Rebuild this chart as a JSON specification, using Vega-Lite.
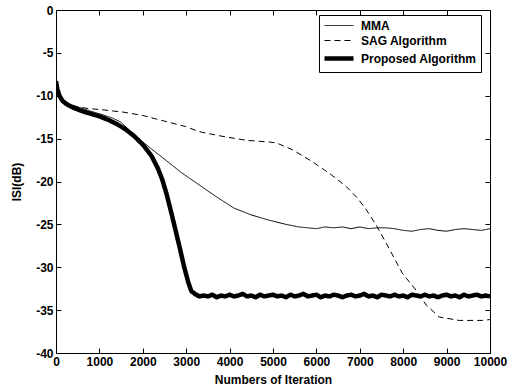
{
  "$schema": "https://vega.github.io/schema/vega-lite/v6.json",
  "width": 434,
  "height": 343,
  "autosize": {"type": "none"},
  "padding": {"left": 56, "top": 10, "right": 25, "bottom": 38},
  "background": "white",
  "config": {
    "view": {"stroke": "black", "strokeWidth": 1},
    "font": "Liberation Sans",
    "axis": {"grid": false, "domain": false, "tickColor": "black", "labelColor": "black", "titleColor": "black"}
  },
  "data": {
    "values": [
      {"series": "MMA", "iter": 0, "isi": -8.5},
      {"series": "MMA", "iter": 100, "isi": -10.2},
      {"series": "MMA", "iter": 250, "isi": -10.9},
      {"series": "MMA", "iter": 500, "isi": -11.3},
      {"series": "MMA", "iter": 800, "isi": -11.8},
      {"series": "MMA", "iter": 1000, "isi": -12.1},
      {"series": "MMA", "iter": 1300, "isi": -12.6},
      {"series": "MMA", "iter": 1500, "isi": -13.1},
      {"series": "MMA", "iter": 1770, "isi": -14.4},
      {"series": "MMA", "iter": 2000, "isi": -15.4},
      {"series": "MMA", "iter": 2300, "isi": -16.6},
      {"series": "MMA", "iter": 2600, "isi": -17.8},
      {"series": "MMA", "iter": 2900, "isi": -19.0},
      {"series": "MMA", "iter": 3300, "isi": -20.4},
      {"series": "MMA", "iter": 3700, "isi": -21.8},
      {"series": "MMA", "iter": 4100, "isi": -23.1},
      {"series": "MMA", "iter": 4500, "isi": -23.9},
      {"series": "MMA", "iter": 4900, "isi": -24.5},
      {"series": "MMA", "iter": 5300, "isi": -25.0},
      {"series": "MMA", "iter": 5600, "isi": -25.3},
      {"series": "MMA", "iter": 5800, "isi": -25.4},
      {"series": "MMA", "iter": 6000, "isi": -25.5},
      {"series": "MMA", "iter": 6200, "isi": -25.3},
      {"series": "MMA", "iter": 6400, "isi": -25.4},
      {"series": "MMA", "iter": 6600, "isi": -25.3},
      {"series": "MMA", "iter": 6800, "isi": -25.5},
      {"series": "MMA", "iter": 7000, "isi": -25.3},
      {"series": "MMA", "iter": 7200, "isi": -25.5},
      {"series": "MMA", "iter": 7400, "isi": -25.4},
      {"series": "MMA", "iter": 7600, "isi": -25.4},
      {"series": "MMA", "iter": 7800, "isi": -25.5},
      {"series": "MMA", "iter": 8000, "isi": -25.7},
      {"series": "MMA", "iter": 8200, "isi": -25.8},
      {"series": "MMA", "iter": 8400, "isi": -25.6},
      {"series": "MMA", "iter": 8600, "isi": -25.5},
      {"series": "MMA", "iter": 8800, "isi": -25.7},
      {"series": "MMA", "iter": 9000, "isi": -25.8},
      {"series": "MMA", "iter": 9200, "isi": -25.6},
      {"series": "MMA", "iter": 9400, "isi": -25.5},
      {"series": "MMA", "iter": 9600, "isi": -25.6},
      {"series": "MMA", "iter": 9800, "isi": -25.7},
      {"series": "MMA", "iter": 10000, "isi": -25.5},
      {"series": "SAG Algorithm", "iter": 0, "isi": -8.5},
      {"series": "SAG Algorithm", "iter": 100, "isi": -10.2},
      {"series": "SAG Algorithm", "iter": 300, "isi": -11.0},
      {"series": "SAG Algorithm", "iter": 500, "isi": -11.3},
      {"series": "SAG Algorithm", "iter": 760, "isi": -11.5},
      {"series": "SAG Algorithm", "iter": 1000, "isi": -11.6},
      {"series": "SAG Algorithm", "iter": 1540, "isi": -11.9},
      {"series": "SAG Algorithm", "iter": 2000, "isi": -12.3},
      {"series": "SAG Algorithm", "iter": 2300, "isi": -12.7},
      {"series": "SAG Algorithm", "iter": 2990, "isi": -13.6},
      {"series": "SAG Algorithm", "iter": 3310, "isi": -14.2},
      {"series": "SAG Algorithm", "iter": 3800, "isi": -14.7},
      {"series": "SAG Algorithm", "iter": 4390, "isi": -15.2},
      {"series": "SAG Algorithm", "iter": 4920, "isi": -15.4},
      {"series": "SAG Algorithm", "iter": 5080, "isi": -15.5},
      {"series": "SAG Algorithm", "iter": 5450, "isi": -16.3},
      {"series": "SAG Algorithm", "iter": 5910, "isi": -17.7},
      {"series": "SAG Algorithm", "iter": 6340, "isi": -19.2},
      {"series": "SAG Algorithm", "iter": 6690, "isi": -20.6},
      {"series": "SAG Algorithm", "iter": 6940, "isi": -21.9},
      {"series": "SAG Algorithm", "iter": 7150, "isi": -23.3},
      {"series": "SAG Algorithm", "iter": 7380, "isi": -25.1},
      {"series": "SAG Algorithm", "iter": 7630, "isi": -27.4},
      {"series": "SAG Algorithm", "iter": 7980, "isi": -30.7},
      {"series": "SAG Algorithm", "iter": 8300, "isi": -32.7},
      {"series": "SAG Algorithm", "iter": 8530, "isi": -34.4},
      {"series": "SAG Algorithm", "iter": 8830, "isi": -35.8},
      {"series": "SAG Algorithm", "iter": 9290, "isi": -36.2},
      {"series": "SAG Algorithm", "iter": 9820, "isi": -36.2},
      {"series": "SAG Algorithm", "iter": 10000, "isi": -36.1},
      {"series": "Proposed Algorithm", "iter": 0, "isi": -8.3},
      {"series": "Proposed Algorithm", "iter": 30, "isi": -9.2},
      {"series": "Proposed Algorithm", "iter": 80, "isi": -10.0},
      {"series": "Proposed Algorithm", "iter": 150, "isi": -10.6},
      {"series": "Proposed Algorithm", "iter": 250, "isi": -11.0},
      {"series": "Proposed Algorithm", "iter": 400, "isi": -11.4},
      {"series": "Proposed Algorithm", "iter": 600, "isi": -11.8},
      {"series": "Proposed Algorithm", "iter": 800, "isi": -12.1},
      {"series": "Proposed Algorithm", "iter": 1000, "isi": -12.4},
      {"series": "Proposed Algorithm", "iter": 1200, "isi": -12.8},
      {"series": "Proposed Algorithm", "iter": 1400, "isi": -13.3},
      {"series": "Proposed Algorithm", "iter": 1600, "isi": -13.9},
      {"series": "Proposed Algorithm", "iter": 1800, "isi": -14.7},
      {"series": "Proposed Algorithm", "iter": 2000, "isi": -15.7},
      {"series": "Proposed Algorithm", "iter": 2200, "isi": -17.0},
      {"series": "Proposed Algorithm", "iter": 2350, "isi": -18.5},
      {"series": "Proposed Algorithm", "iter": 2450, "isi": -19.8},
      {"series": "Proposed Algorithm", "iter": 2550, "isi": -21.5},
      {"series": "Proposed Algorithm", "iter": 2650, "isi": -23.5},
      {"series": "Proposed Algorithm", "iter": 2750, "isi": -25.6},
      {"series": "Proposed Algorithm", "iter": 2850, "isi": -27.7},
      {"series": "Proposed Algorithm", "iter": 2950, "isi": -29.9},
      {"series": "Proposed Algorithm", "iter": 3050, "isi": -31.8},
      {"series": "Proposed Algorithm", "iter": 3120, "isi": -32.8},
      {"series": "Proposed Algorithm", "iter": 3200, "isi": -33.1},
      {"series": "Proposed Algorithm", "iter": 3300, "isi": -33.4},
      {"series": "Proposed Algorithm", "iter": 3400, "isi": -33.3},
      {"series": "Proposed Algorithm", "iter": 3500, "isi": -33.4},
      {"series": "Proposed Algorithm", "iter": 3600, "isi": -33.2},
      {"series": "Proposed Algorithm", "iter": 3700, "isi": -33.5},
      {"series": "Proposed Algorithm", "iter": 3800, "isi": -33.3},
      {"series": "Proposed Algorithm", "iter": 3900, "isi": -33.4},
      {"series": "Proposed Algorithm", "iter": 4000, "isi": -33.2},
      {"series": "Proposed Algorithm", "iter": 4100, "isi": -33.4},
      {"series": "Proposed Algorithm", "iter": 4200, "isi": -33.3},
      {"series": "Proposed Algorithm", "iter": 4300, "isi": -33.1},
      {"series": "Proposed Algorithm", "iter": 4400, "isi": -33.4},
      {"series": "Proposed Algorithm", "iter": 4500, "isi": -33.3},
      {"series": "Proposed Algorithm", "iter": 4600, "isi": -33.5},
      {"series": "Proposed Algorithm", "iter": 4700, "isi": -33.2},
      {"series": "Proposed Algorithm", "iter": 4800, "isi": -33.4},
      {"series": "Proposed Algorithm", "iter": 4900, "isi": -33.3},
      {"series": "Proposed Algorithm", "iter": 5000, "isi": -33.2},
      {"series": "Proposed Algorithm", "iter": 5100, "isi": -33.4},
      {"series": "Proposed Algorithm", "iter": 5200, "isi": -33.3},
      {"series": "Proposed Algorithm", "iter": 5300, "isi": -33.5},
      {"series": "Proposed Algorithm", "iter": 5400, "isi": -33.2},
      {"series": "Proposed Algorithm", "iter": 5500, "isi": -33.4},
      {"series": "Proposed Algorithm", "iter": 5600, "isi": -33.3},
      {"series": "Proposed Algorithm", "iter": 5700, "isi": -33.1},
      {"series": "Proposed Algorithm", "iter": 5800, "isi": -33.4},
      {"series": "Proposed Algorithm", "iter": 5900, "isi": -33.3},
      {"series": "Proposed Algorithm", "iter": 6000, "isi": -33.2},
      {"series": "Proposed Algorithm", "iter": 6100, "isi": -33.5},
      {"series": "Proposed Algorithm", "iter": 6200, "isi": -33.3},
      {"series": "Proposed Algorithm", "iter": 6300, "isi": -33.4},
      {"series": "Proposed Algorithm", "iter": 6400, "isi": -33.2},
      {"series": "Proposed Algorithm", "iter": 6500, "isi": -33.3},
      {"series": "Proposed Algorithm", "iter": 6600, "isi": -33.5},
      {"series": "Proposed Algorithm", "iter": 6700, "isi": -33.3},
      {"series": "Proposed Algorithm", "iter": 6800, "isi": -33.2},
      {"series": "Proposed Algorithm", "iter": 6900, "isi": -33.4},
      {"series": "Proposed Algorithm", "iter": 7000, "isi": -33.3},
      {"series": "Proposed Algorithm", "iter": 7100, "isi": -33.1},
      {"series": "Proposed Algorithm", "iter": 7200, "isi": -33.4},
      {"series": "Proposed Algorithm", "iter": 7300, "isi": -33.3},
      {"series": "Proposed Algorithm", "iter": 7400, "isi": -33.5},
      {"series": "Proposed Algorithm", "iter": 7500, "isi": -33.2},
      {"series": "Proposed Algorithm", "iter": 7600, "isi": -33.3},
      {"series": "Proposed Algorithm", "iter": 7700, "isi": -33.4},
      {"series": "Proposed Algorithm", "iter": 7800, "isi": -33.2},
      {"series": "Proposed Algorithm", "iter": 7900, "isi": -33.4},
      {"series": "Proposed Algorithm", "iter": 8000, "isi": -33.3},
      {"series": "Proposed Algorithm", "iter": 8100, "isi": -33.5},
      {"series": "Proposed Algorithm", "iter": 8200, "isi": -33.2},
      {"series": "Proposed Algorithm", "iter": 8300, "isi": -33.3},
      {"series": "Proposed Algorithm", "iter": 8400, "isi": -33.4},
      {"series": "Proposed Algorithm", "iter": 8500, "isi": -33.2},
      {"series": "Proposed Algorithm", "iter": 8600, "isi": -33.4},
      {"series": "Proposed Algorithm", "iter": 8700, "isi": -33.3},
      {"series": "Proposed Algorithm", "iter": 8800, "isi": -33.5},
      {"series": "Proposed Algorithm", "iter": 8900, "isi": -33.3},
      {"series": "Proposed Algorithm", "iter": 9000, "isi": -33.2},
      {"series": "Proposed Algorithm", "iter": 9100, "isi": -33.4},
      {"series": "Proposed Algorithm", "iter": 9200, "isi": -33.3},
      {"series": "Proposed Algorithm", "iter": 9300, "isi": -33.5},
      {"series": "Proposed Algorithm", "iter": 9400, "isi": -33.2},
      {"series": "Proposed Algorithm", "iter": 9500, "isi": -33.4},
      {"series": "Proposed Algorithm", "iter": 9600, "isi": -33.3},
      {"series": "Proposed Algorithm", "iter": 9700, "isi": -33.2},
      {"series": "Proposed Algorithm", "iter": 9800, "isi": -33.4},
      {"series": "Proposed Algorithm", "iter": 9900, "isi": -33.3},
      {"series": "Proposed Algorithm", "iter": 10000, "isi": -33.4}
    ]
  },
  "layer": [
    {
      "mark": {"type": "line", "stroke": "black", "strokeJoin": "round", "clip": true},
      "encoding": {
        "x": {
          "field": "iter", "type": "quantitative",
          "scale": {"domain": [0, 10000], "nice": false, "zero": false},
          "axis": {
            "orient": "bottom",
            "values": [0, 1000, 2000, 3000, 4000, 5000, 6000, 7000, 8000, 9000, 10000],
            "labelExpr": "'' + datum.value",
            "labelFont": "Liberation Sans", "labelFontSize": 12, "labelFontWeight": "bold",
            "labelFlush": false, "labelOverlap": false,
            "tickSize": -5, "labelPadding": 8,
            "title": "Numbers of Iteration",
            "titleFont": "Liberation Sans", "titleFontSize": 12, "titleFontWeight": "bold",
            "titlePadding": 7
          }
        },
        "y": {
          "field": "isi", "type": "quantitative",
          "scale": {"domain": [-40, 0], "nice": false, "zero": false},
          "axis": {
            "orient": "left",
            "values": [-40, -35, -30, -25, -20, -15, -10, -5, 0],
            "labelExpr": "'' + datum.value",
            "labelFont": "Liberation Sans", "labelFontSize": 12, "labelFontWeight": "bold",
            "labelFlush": false, "labelOverlap": false,
            "tickSize": -5, "labelPadding": 8,
            "title": "ISI(dB)",
            "titleFont": "Liberation Sans", "titleFontSize": 12, "titleFontWeight": "bold",
            "titlePadding": 12
          }
        },
        "strokeDash": {
          "field": "series", "type": "nominal",
          "scale": {"domain": ["MMA", "SAG Algorithm", "Proposed Algorithm"], "range": [[1, 0], [6, 4], [1, 0]]},
          "legend": {
            "orient": "none", "legendX": 263, "legendY": 5, "title": null,
            "symbolType": "M-1.17,0H3.67", "symbolSize": 144, "symbolStrokeColor": "black",
            "labelFont": "Liberation Sans", "labelFontSize": 12, "labelFontWeight": "bold", "labelColor": "black",
            "labelOffset": 21, "padding": 4, "rowPadding": 2,
            "strokeColor": "black", "fillColor": "white"
          }
        },
        "strokeWidth": {
          "field": "series", "type": "ordinal",
          "scale": {"type": "ordinal", "domain": ["MMA", "SAG Algorithm", "Proposed Algorithm"], "range": [1, 1, 4.5]},
          "legend": {
            "orient": "none", "legendX": 263, "legendY": 5, "title": null,
            "symbolType": "M-1.17,0H3.67", "symbolSize": 144, "symbolStrokeColor": "black",
            "labelFont": "Liberation Sans", "labelFontSize": 12, "labelFontWeight": "bold", "labelColor": "black",
            "labelOffset": 21, "padding": 4, "rowPadding": 2,
            "strokeColor": "black", "fillColor": "white"
          }
        }
      }
    },
    {
      "mark": {"type": "point", "opacity": 0},
      "encoding": {
        "x": {
          "field": "iter", "type": "quantitative",
          "axis": {
            "orient": "top", "labels": false, "title": null, "tickSize": -5,
            "values": [0, 1000, 2000, 3000, 4000, 5000, 6000, 7000, 8000, 9000, 10000]
          }
        },
        "y": {
          "field": "isi", "type": "quantitative",
          "axis": {
            "orient": "right", "labels": false, "title": null, "tickSize": -5,
            "values": [-40, -35, -30, -25, -20, -15, -10, -5, 0]
          }
        }
      }
    }
  ],
  "resolve": {"axis": {"x": "independent", "y": "independent"}}
}
